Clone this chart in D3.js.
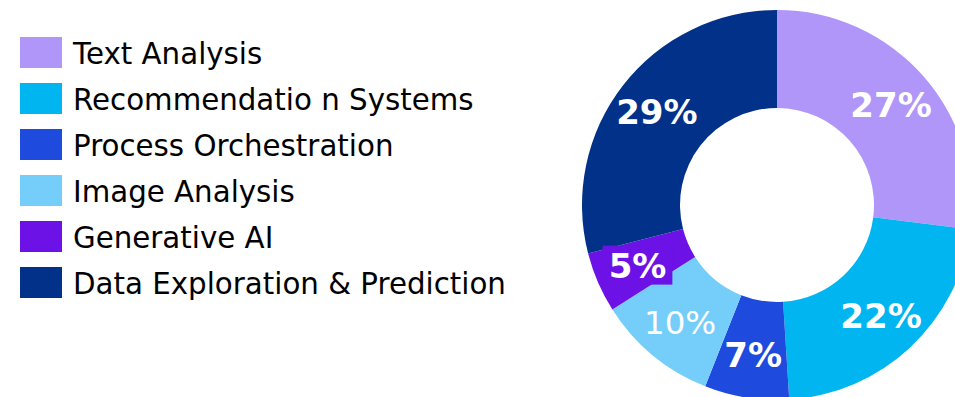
<!DOCTYPE html>
<html>
<head>
<meta charset="utf-8">
<script src="https://cdn.jsdelivr.net/npm/d3@7"></script>
<style>
  body { margin: 0; background: #fff; }
  svg { display: block; font-family: "DejaVu Sans", Verdana, sans-serif; }
</style>
</head>
<body>
<script>
var categories = ["Text Analysis", "Recommendatio n Systems", "Process Orchestration",
                  "Image Analysis", "Generative AI", "Data Exploration & Prediction"];
var shares = [27, 22, 7, 10, 5, 29];
var colors = ["#b196f9", "#00b5f0", "#1e4bde", "#74cef9", "#6c12e6", "#023189"];
var labelWeights = ["bold", "bold", "bold", "normal", "bold", "bold"];

var width = 955, height = 397;

var svg = d3.select("body").append("svg")
    .attr("width", width)
    .attr("height", height);

var data = categories.map(function(c, i) {
    return {name: c, value: shares[i], color: colors[i], weight: labelWeights[i]};
});

// legend
var rowY = d3.scaleBand()
    .domain(categories)
    .range([37, 37 + 46 * categories.length]);

var legend = svg.append("g").attr("class", "legend");

var rows = legend.selectAll("g")
    .data(data)
    .enter()
    .append("g")
    .attr("transform", function(d) { return "translate(20," + rowY(d.name) + ")"; });

rows.append("rect")
    .attr("width", 42)
    .attr("height", 31)
    .style("fill", function(d) { return d.color; });

rows.append("text")
    .attr("x", 53)
    .attr("y", 27)
    .style("font-size", "29.3px")
    .style("fill", "#000")
    .text(function(d) { return d.name; });

// donut
var cx = 777, cy = 205, outerR = 195, innerR = 97;

var pie = d3.pie()
    .sort(null)
    .value(function(d) { return d.value; });

var arc = d3.arc()
    .innerRadius(innerR)
    .outerRadius(outerR);

var labelArc = d3.arc()
    .innerRadius(152)
    .outerRadius(152);

var g = svg.append("g")
    .attr("transform", "translate(" + cx + "," + cy + ")");

var arcs = pie(data);

g.selectAll("path")
    .data(arcs)
    .enter()
    .append("path")
    .attr("d", arc)
    .style("fill", function(d) { return d.data.color; });

var labels = g.selectAll("g.label")
    .data(arcs)
    .enter()
    .append("g")
    .attr("class", "label")
    .attr("transform", function(d) { return "translate(" + labelArc.centroid(d) + ")"; });

labels.append("text")
    .attr("text-anchor", "middle")
    .attr("dy", "0.36em")
    .style("font-size", function(d) { return d.data.weight == "bold" ? "34px" : "32.5px"; })
    .style("font-weight", function(d) { return d.data.weight; })
    .style("fill", "#fff")
    .text(function(d) { return d.data.value + "%"; });

// small slices get a background box behind the label
labels.filter(function(d) { return d.data.value < 7; })
    .insert("rect", "text")
    .each(function() {
        var bb = this.parentNode.querySelector("text").getBBox();
        d3.select(this)
            .attr("x", bb.x - 6)
            .attr("y", bb.y)
            .attr("width", bb.width + 12)
            .attr("height", bb.height - 1);
    })
    .style("fill", function(d) { return d.data.color; });
</script>
</body>
</html>
